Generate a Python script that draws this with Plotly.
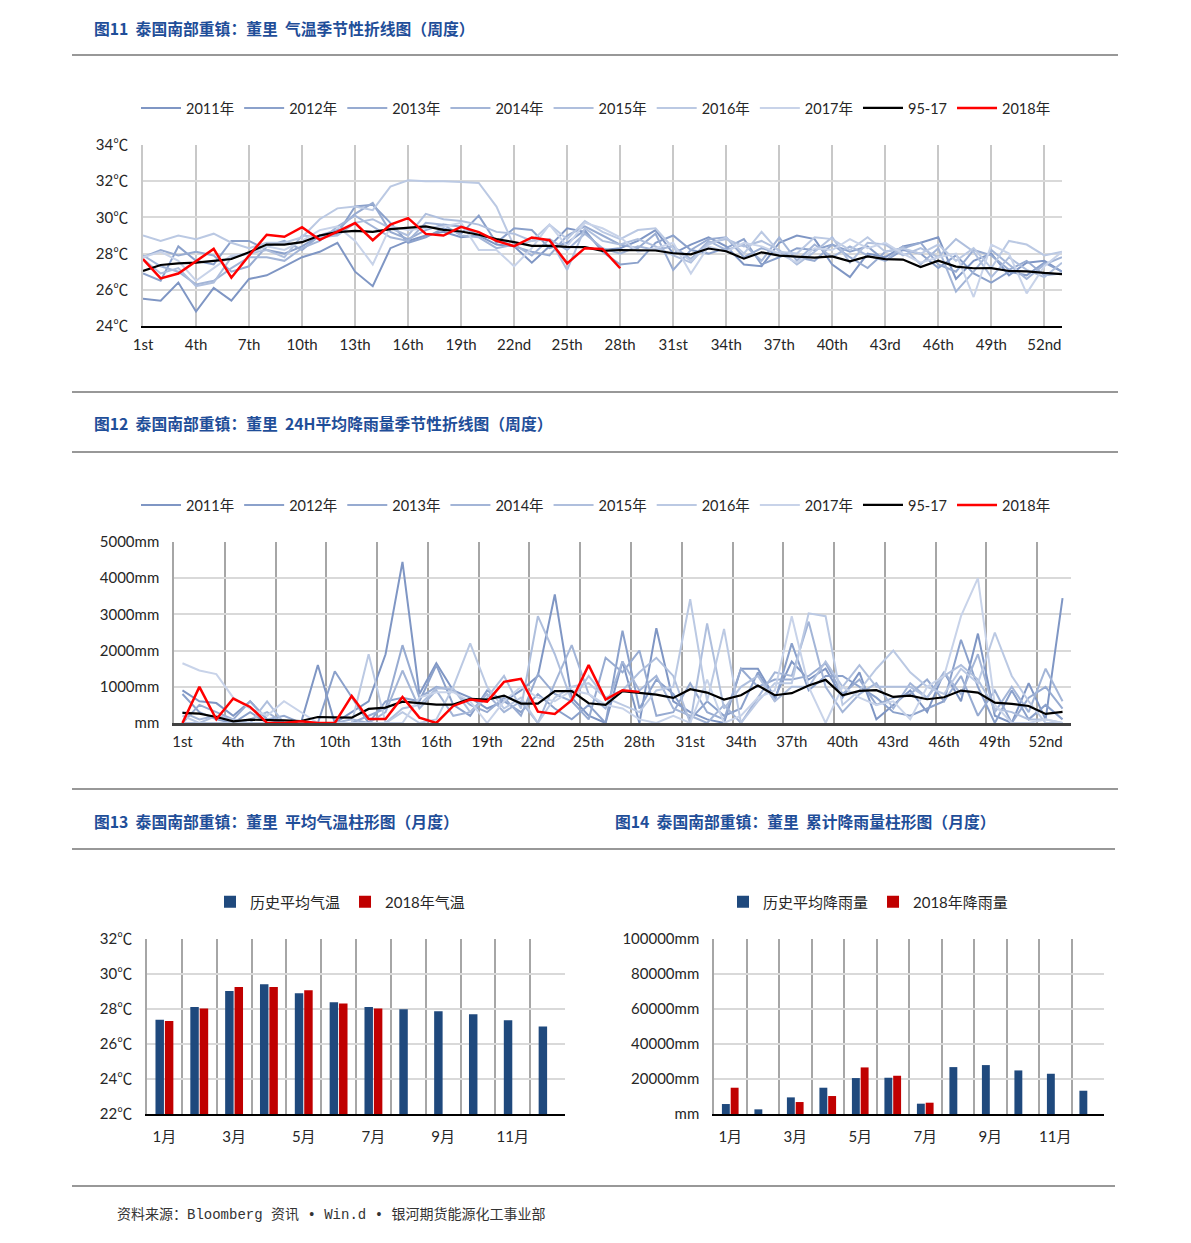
import plotly.graph_objects as go

W, H = 1191, 1243


def px(x):
    return x / W


def py(y):
    return 1 - y / H


# ---------------- data ----------------
weeks = list(range(1, 54))
week_tick_vals = [1, 4, 7, 10, 13, 16, 19, 22, 25, 28, 31, 34, 37, 40, 43, 46, 49, 52]
week_tick_text = ["1st", "4th", "7th", "10th", "13th", "16th", "19th", "22nd", "25th", "28th",
                  "31st", "34th", "37th", "40th", "43rd", "46th", "49th", "52nd"]
year_names = ["2011年", "2012年", "2013年", "2014年", "2015年", "2016年", "2017年"]
avg_name = "95-17"
cur_name = "2018年"

temp_2011 = [25.5, 25.4, 26.4, 24.8, 26.1, 25.4, 26.6, 26.8, 27.3, 27.8,
             28.1, 28.6, 27.0, 26.2, 28.3, 28.7, 29.0, 29.2, 28.9, 29.0,
             28.5, 28.4, 27.5, 28.4, 29.4, 29.2, 28.2, 28.3, 28.7, 29.3,
             28.0, 28.5, 28.9, 28.4, 27.4, 27.3, 28.6, 29.0, 28.8, 27.4,
             26.7, 28.0, 27.8, 28.4, 28.6, 28.9, 26.6, 27.6, 28.0, 26.8,
             27.5, 27.6, 27.0]
temp_2012 = [26.9, 26.5, 28.4, 27.6, 27.4, 28.7, 28.7, 28.2, 28.0, 28.4,
             29.0, 29.1, 30.6, 30.7, 29.7, 28.6, 28.9, 29.4, 29.1, 30.1,
             28.6, 29.4, 29.3, 28.3, 28.6, 29.3, 28.1, 27.4, 27.5, 28.6,
             29.0, 28.2, 28.0, 28.3, 28.8, 27.4, 27.8, 28.3, 28.2, 28.5,
             28.1, 28.4, 27.6, 28.2, 28.0, 27.2, 27.9, 26.9, 26.4, 27.0,
             26.8, 27.5, 27.0]
temp_2013 = [27.8, 28.2, 27.9, 28.1, 27.9, 27.0, 27.3, 28.4, 28.7, 28.2,
             29.0, 29.3, 30.2, 30.8, 29.2, 28.8, 29.3, 29.6, 29.5, 29.0,
             28.8, 28.4, 28.1, 27.9, 29.0, 29.5, 29.0, 28.5, 28.3, 29.1,
             27.1, 28.2, 28.8, 28.9, 27.8, 28.3, 28.0, 27.8, 27.6, 28.5,
             27.8, 27.2, 28.1, 28.3, 28.6, 27.4, 27.0, 28.2, 27.9, 27.1,
             27.6, 26.8, 26.9]
temp_2014 = [27.9, 27.3, 27.0, 26.3, 26.5, 27.2, 27.8, 27.8, 27.6, 28.3,
             28.7, 29.5, 30.1, 29.5, 28.9, 28.7, 29.7, 29.6, 29.0, 28.9,
             28.3, 28.5, 27.9, 28.8, 28.2, 29.1, 28.3, 28.0, 28.4, 28.2,
             28.4, 27.7, 28.7, 28.2, 28.5, 27.6, 28.9, 27.6, 28.5, 27.8,
             28.4, 27.9, 27.6, 28.4, 27.4, 28.3, 25.9, 27.0, 28.2, 27.4,
             26.6, 27.4, 27.8]
temp_2015 = [27.7, 26.9, 27.2, 26.2, 26.4, 27.8, 28.0, 28.2, 27.8, 29.0,
             28.9, 29.0, 29.7, 29.9, 29.4, 29.0, 30.2, 29.9, 29.8, 29.6,
             29.2, 29.1, 28.7, 28.8, 27.1, 29.4, 28.7, 28.5, 28.8, 28.4,
             27.9, 27.5, 28.6, 28.8, 28.4, 28.7, 28.2, 27.4, 28.1, 28.9,
             27.5, 28.6, 28.5, 27.9, 28.3, 27.8, 28.8, 28.1, 26.7, 27.8,
             27.1, 26.7, 27.5]
temp_2016 = [29.0, 28.7, 29.0, 28.8, 29.1, 28.6, 28.3, 28.6, 28.6, 28.9,
             29.9, 30.5, 30.6, 30.4, 31.7, 32.05, 32.0, 32.0, 31.95, 31.9,
             30.6, 28.4, 28.7, 29.6, 28.8, 29.8, 29.2, 28.8, 29.3, 29.4,
             28.3, 27.6, 28.5, 28.9, 28.0, 29.2, 28.1, 28.0, 28.9, 28.8,
             28.2, 28.9, 28.1, 28.3, 28.0, 28.5, 27.6, 28.3, 27.2, 28.7,
             28.5, 27.9, 28.1]
temp_2017 = [27.8, 28.1, 27.6, 26.5, 27.2, 27.9, 28.0, 28.4, 28.2, 28.7,
             29.3, 29.5, 28.7, 27.4, 29.5, 29.3, 29.4, 29.5, 29.7, 28.2,
             28.2, 27.3, 28.3, 29.6, 28.4, 29.7, 29.4, 28.9, 28.1, 28.3,
             28.6, 26.9, 28.4, 28.1, 28.6, 28.4, 28.0, 27.5, 28.3, 28.2,
             28.8, 28.3, 28.6, 28.0, 27.5, 27.8, 28.0, 25.6, 28.5, 28.0,
             25.8, 27.3, 28.1]
temp_avg = [27.04, 27.37, 27.46, 27.5, 27.6, 27.7, 28.07, 28.5, 28.5, 28.63,
            29.0, 29.19, 29.26, 29.2, 29.35, 29.44, 29.5, 29.31, 29.22, 29.04,
            28.8, 28.63, 28.43, 28.43, 28.37, 28.36, 28.15, 28.2, 28.17, 28.17,
            28.02, 27.96, 28.28, 28.13, 27.72, 28.07, 27.89, 27.83, 27.78, 27.85,
            27.57, 27.85, 27.69, 27.67, 27.26, 27.61, 27.28, 27.19, 27.2, 27.04,
            27.02, 26.93, 26.87]
temp_2018 = [27.7, 26.63, 26.9, 27.56, 28.26, 26.67, 27.89, 29.04, 28.93, 29.46,
             28.76, 29.22, 29.69, 28.74, 29.6, 29.96, 29.09, 29.0, 29.48, 29.19,
             28.7, 28.41, 28.89, 28.74, 27.46, 28.3, 28.26, 27.19]

rain_2011 = [900, 600, 550, 200, 600, 100, 0, 0, 1600, 0,
             300, 600, 1900, 4450, 800, 1650, 900, 700, 400, 600,
             900, 1300, 3550, 700, 200, 0, 1700, 0, 2620, 600,
             300, 100, 0, 1500, 1500, 700, 1700, 1200, 1500, 700,
             1400, 100, 500, 900, 300, 1400, 600, 2470, 200, 0,
             1100, 100, 3450]
rain_2012 = [800, 300, 100, 0, 300, 0, 0, 0, 0, 1430,
             700, 0, 600, 700, 600, 1600, 500, 200, 900, 600,
             300, 800, 400, 100, 500, 0, 2550, 400, 1200, 800,
             100, 600, 200, 400, 1400, 600, 2200, 900, 1300, 1300,
             1000, 700, 300, 200, 400, 600, 2300, 1000, 0, 900,
             100, 500, 100]
rain_2013 = [0, 500, 300, 100, 600, 100, 200, 0, 0, 0,
             0, 200, 400, 2150, 700, 1000, 900, 500, 300, 700,
             200, 1350, 800, 600, 100, 1800, 1400, 2000, 200, 300,
             1100, 300, 100, 1500, 1000, 1200, 1200, 1300, 1650, 800,
             1200, 500, 700, 800, 1200, 600, 1300, 200, 900, 0,
             700, 1000, 400]
rain_2014 = [300, 100, 200, 0, 100, 300, 0, 0, 0, 0,
             100, 0, 300, 1450, 400, 900, 200, 300, 800, 300,
             600, 0, 1100, 2150, 800, 400, 1700, 900, 1300, 400,
             200, 0, 500, 0, 700, 1400, 1300, 2800, 1000, 300,
             800, 1100, 400, 1100, 700, 1400, 800, 1900, 300, 1000,
             300, 1500, 600]
rain_2015 = [0, 0, 200, 100, 0, 600, 0, 0, 0, 0,
             0, 0, 0, 400, 500, 950, 950, 300, 700, 1300,
             400, 2950, 1900, 600, 1300, 700, 900, 1400, 1800, 1300,
             0, 2750, 400, 1000, 1300, 600, 1000, 1000, 1700, 1000,
             1600, 1000, 1000, 1000, 700, 1300, 1600, 1200, 400, 300,
             100, 100, 0]
rain_2016 = [200, 0, 0, 0, 0, 0, 0, 0, 0, 0,
             0, 1900, 0, 300, 0, 100, 1000, 2200, 1000, 400,
             700, 0, 700, 1000, 1100, 700, 500, 300, 900, 1000,
             3420, 600, 2600, 0, 600, 1100, 1100, 3030, 2950, 500,
             900, 1500, 2000, 1400, 1000, 800, 1500, 1100, 2500, 1300,
             600, 0, 0]
rain_2017 = [1650, 1450, 1350, 700, 400, 200, 600, 300, 0, 0,
             0, 0, 0, 0, 700, 850, 850, 600, 0, 600,
             1000, 700, 600, 900, 800, 500, 400, 100, 0, 200,
             0, 1200, 0, 200, 700, 900, 2950, 1000, 0, 1000,
             700, 500, 600, 100, 1000, 1300, 2950, 4000, 500, 0,
             0, 100, 0]
rain_avg = [277, 259, 166, 46, 92, 92, 74, 55, 166, 157,
            148, 388, 425, 591, 555, 508, 508, 665, 647, 758,
            536, 536, 878, 878, 545, 500, 878, 832, 786, 693,
            933, 841, 647, 767, 1035, 767, 823, 1035, 1192, 767,
            887, 906, 721, 758, 656, 712, 896, 841, 564, 527,
            471, 250, 305]
rain_2018 = [0, 998, 102, 675, 444, 0, 0, 46, 0, 0,
             749, 111, 111, 721, 148, 0, 471, 647, 591, 1137,
             1220, 314, 250, 628, 1599, 647, 906, 860]
rain_tick_vals = [0, 1000, 2000, 3000, 4000, 5000]
rain_tick_text = ["mm", "1000mm", "2000mm", "3000mm", "4000mm", "5000mm"]

months = list(range(1, 13))
month_tick_vals = [1, 3, 5, 7, 9, 11]
month_tick_text = ["1月", "3月", "5月", "7月", "9月", "11月"]
mtemp_hist = [27.38, 28.12, 29.03, 29.41, 28.9, 28.39, 28.12, 27.99, 27.87, 27.7, 27.36, 27.0]
mtemp_2018 = [27.32, 28.03, 29.26, 29.26, 29.07, 28.31, 28.03, None, None, None, None, None]
mrain_hist = [5700, 2660, 9500, 15020, 20530, 20720, 5890, 26800, 27950, 24900, 23000, 13300]
mrain_2018 = [15020, None, 6840, 10270, 26620, 21860, 6460, None, None, None, None, None]
mrain_tick_vals = [0, 20000, 40000, 60000, 80000, 100000]
mrain_tick_text = ["mm", "20000mm", "40000mm", "60000mm", "80000mm", "100000mm"]

# ---------------- styles ----------------
year_colors = ["#7F96C4", "#8BA1CB", "#97ABD1", "#A3B5D7", "#AFBFDD", "#BBC9E3", "#C8D3E9"]
FONT = "Lato, Noto Sans CJK SC, sans-serif"
TXT = "#262626"
TITLE_BLUE = "#1F4E99"

fig = go.Figure()

temp_years = [temp_2011, temp_2012, temp_2013, temp_2014, temp_2015, temp_2016, temp_2017]
rain_years = [rain_2011, rain_2012, rain_2013, rain_2014, rain_2015, rain_2016, rain_2017]

for name, vals, col in zip(year_names, temp_years, year_colors):
    fig.add_trace(go.Scatter(x=weeks, y=vals, mode="lines", name=name,
                             line=dict(color=col, width=2), xaxis="x", yaxis="y", legend="legend"))
fig.add_trace(go.Scatter(x=weeks, y=temp_avg, mode="lines", name=avg_name,
                         line=dict(color="#000000", width=2.2), xaxis="x", yaxis="y", legend="legend"))
fig.add_trace(go.Scatter(x=weeks[:len(temp_2018)], y=temp_2018, mode="lines", name=cur_name,
                         line=dict(color="#FF0000", width=2.5), xaxis="x", yaxis="y", legend="legend"))

for name, vals, col in zip(year_names, rain_years, year_colors):
    fig.add_trace(go.Scatter(x=weeks, y=vals, mode="lines", name=name,
                             line=dict(color=col, width=2), xaxis="x2", yaxis="y2", legend="legend2"))
fig.add_trace(go.Scatter(x=weeks, y=rain_avg, mode="lines", name=avg_name,
                         line=dict(color="#000000", width=2.2), xaxis="x2", yaxis="y2", legend="legend2"))
fig.add_trace(go.Scatter(x=weeks[:len(rain_2018)], y=rain_2018, mode="lines", name=cur_name,
                         line=dict(color="#FF0000", width=2.5), xaxis="x2", yaxis="y2", legend="legend2"))

fig.add_trace(go.Bar(x=months, y=mtemp_hist, name="历史平均气温", marker=dict(color="#1F497D", line=dict(width=0)),
                     xaxis="x3", yaxis="y3", legend="legend3"))
fig.add_trace(go.Bar(x=months, y=mtemp_2018, name="2018年气温", marker=dict(color="#C00000", line=dict(width=0)),
                     xaxis="x3", yaxis="y3", legend="legend3"))
fig.add_trace(go.Bar(x=months, y=mrain_hist, name="历史平均降雨量", marker=dict(color="#1F497D", line=dict(width=0)),
                     xaxis="x4", yaxis="y4", legend="legend4"))
fig.add_trace(go.Bar(x=months, y=mrain_2018, name="2018年降雨量", marker=dict(color="#C00000", line=dict(width=0)),
                     xaxis="x4", yaxis="y4", legend="legend4"))

tickfont = dict(family=FONT, size=15, color=TXT)
hid = "rgba(0,0,0,0)"
ax_common = dict(automargin=False, zeroline=False, ticks="outside", tickcolor=hid, tickfont=tickfont)

fig.update_layout(
    width=W, height=H, margin=dict(l=0, r=0, t=0, b=0, autoexpand=False),
    paper_bgcolor="white", plot_bgcolor="white",
    barmode="group", bargap=0.46, bargroupgap=0.1,
    font=dict(family=FONT, color=TXT),
    xaxis=dict(domain=[px(143), px(1062)], anchor="y", range=[1, 53],
               tickmode="array", tickvals=week_tick_vals, ticktext=week_tick_text,
               showgrid=True, gridcolor="#C8C8C8", gridwidth=1.5,
               showline=True, linecolor="#000000", linewidth=2, ticklen=4, **ax_common),
    yaxis=dict(domain=[py(326), py(145)], anchor="x", range=[24, 34], dtick=2, tick0=24,
               ticksuffix="℃", showgrid=True, gridcolor="#D9D9D9", gridwidth=1.5,
               showline=True, linecolor="#C8C8C8", linewidth=1.5, ticklen=10, **ax_common),
    xaxis2=dict(domain=[px(174), px(1071)], anchor="y2", range=[0.5, 53.5],
                tickmode="array", tickvals=week_tick_vals, ticktext=week_tick_text,
                showgrid=False,
                minor=dict(tickmode="array", tickvals=[v - 0.5 for v in week_tick_vals],
                           showgrid=True, gridcolor="#A6A6A6", gridwidth=1.5, ticks=""),
                showline=True, linecolor="#404040", linewidth=2.5, ticklen=3, **ax_common),
    yaxis2=dict(domain=[py(723), py(542)], anchor="x2", range=[0, 5000],
                tickmode="array", tickvals=rain_tick_vals, ticktext=rain_tick_text,
                showgrid=True, gridcolor="#D9D9D9", gridwidth=1.5,
                showline=True, linecolor="#A6A6A6", linewidth=1.5, ticklen=10, **ax_common),
    xaxis3=dict(domain=[px(147), px(565)], anchor="y3", range=[0.5, 12.5],
                tickmode="array", tickvals=month_tick_vals, ticktext=month_tick_text,
                showgrid=False,
                minor=dict(tickmode="array", tickvals=[m + 0.5 for m in range(0, 13)],
                           showgrid=True, gridcolor="#A6A6A6", gridwidth=1.5, ticks=""),
                showline=True, linecolor="#000000", linewidth=1.5, ticklen=8, **ax_common),
    yaxis3=dict(domain=[py(1114), py(939)], anchor="x3", range=[22, 32], dtick=2, tick0=22,
                ticksuffix="℃", showgrid=True, gridcolor="#D9D9D9", gridwidth=1.5,
                showline=True, linecolor="#A6A6A6", linewidth=1.5, ticklen=10, **ax_common),
    xaxis4=dict(domain=[px(714), px(1104)], anchor="y4", range=[0.5, 12.5],
                tickmode="array", tickvals=month_tick_vals, ticktext=month_tick_text,
                showgrid=False,
                minor=dict(tickmode="array", tickvals=[m + 0.5 for m in range(0, 13)],
                           showgrid=True, gridcolor="#A6A6A6", gridwidth=1.5, ticks=""),
                showline=True, linecolor="#000000", linewidth=1.5, ticklen=8, **ax_common),
    yaxis4=dict(domain=[py(1114), py(939)], anchor="x4", range=[0, 100000],
                tickmode="array", tickvals=mrain_tick_vals, ticktext=mrain_tick_text,
                showgrid=True, gridcolor="#D9D9D9", gridwidth=1.5,
                showline=True, linecolor="#A6A6A6", linewidth=1.5, ticklen=10, **ax_common),
)

leg_line = dict(orientation="h", xanchor="center", yanchor="middle",
                font=dict(family=FONT, size=14.5, color=TXT), bgcolor="rgba(0,0,0,0)",
                traceorder="normal", itemwidth=40)
leg_bar = dict(orientation="h", xanchor="center", yanchor="middle",
               font=dict(family=FONT, size=15, color=TXT), bgcolor="rgba(0,0,0,0)",
               traceorder="normal", itemwidth=30)
fig.update_layout(
    legend=dict(x=px(596), y=py(108), **leg_line),
    legend2=dict(x=px(596), y=py(505), **leg_line),
    legend3=dict(x=px(340), y=py(902), **leg_bar),
    legend4=dict(x=px(868), y=py(902), **leg_bar),
)

# titles
titles = [
    (92, 28, "图11  泰国南部重镇：董里  气温季节性折线图（周度）"),
    (92, 424, "图12  泰国南部重镇：董里  24H平均降雨量季节性折线图（周度）"),
    (92, 821, "图13  泰国南部重镇：董里  平均气温柱形图（月度）"),
    (613, 821, "图14  泰国南部重镇：董里  累计降雨量柱形图（月度）"),
]
for x, y, t in titles:
    fig.add_annotation(x=px(x), y=py(y), xref="paper", yref="paper", text="<b>" + t + "</b>",
                       showarrow=False, xanchor="left", yanchor="middle",
                       font=dict(family="Noto Sans CJK SC", size=15.8, color=TITLE_BLUE))

fig.add_annotation(x=px(115), y=py(1214), xref="paper", yref="paper",
                   text="资料来源：Bloomberg 资讯 • Win.d • 银河期货能源化工事业部",
                   showarrow=False, xanchor="left", yanchor="middle",
                   font=dict(family="Liberation Mono, Noto Sans CJK SC", size=14, color="#333333"))

# separator lines
seps = [(55, 72, 1118), (392, 72, 1118), (452, 72, 1118), (789, 72, 1118), (849, 72, 1115), (1186, 72, 1115)]
for y, x0, x1 in seps:
    fig.add_shape(type="line", xref="paper", yref="paper", x0=px(x0), x1=px(x1), y0=py(y), y1=py(y),
                  line=dict(color="#333333", width=1.2))

fig.write_html("out.html", config={"displayModeBar": False},
               post_script="document.body.style.margin='0';document.body.style.overflow='hidden';")
